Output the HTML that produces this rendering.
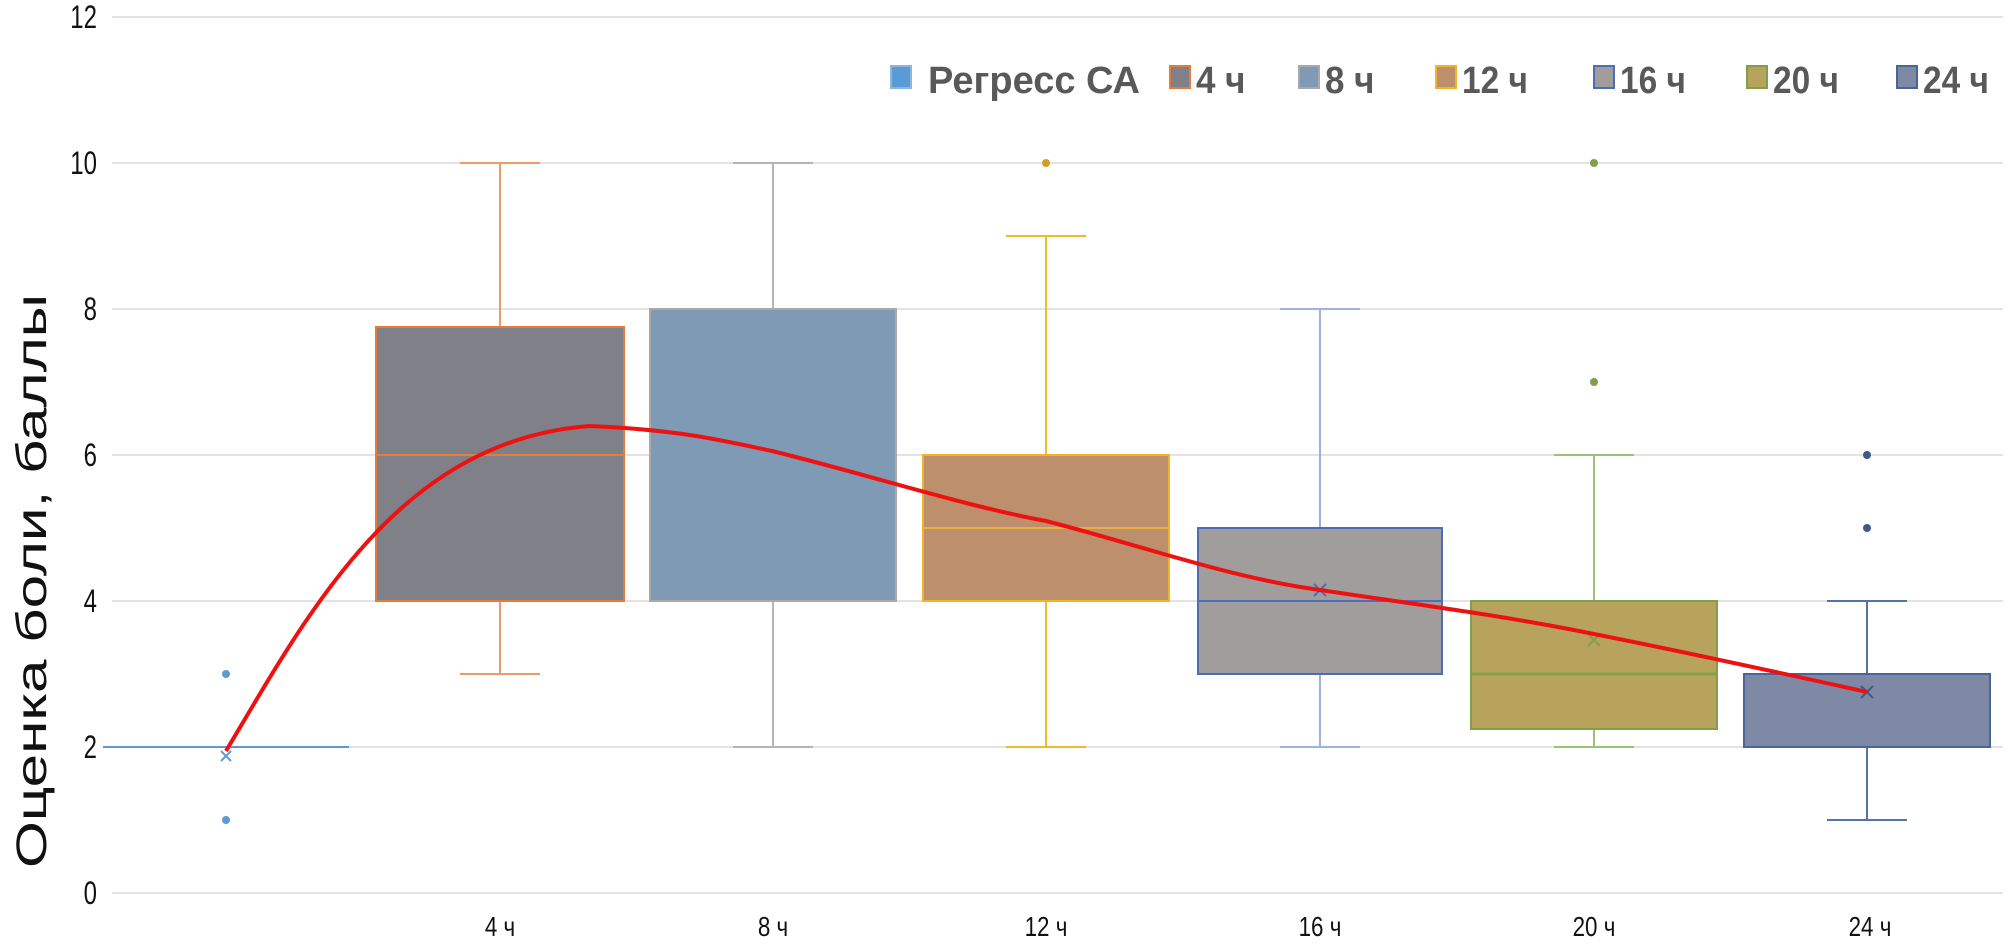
<!DOCTYPE html>
<html><head><meta charset="utf-8"><style>
html,body{margin:0;padding:0;background:#fff;width:2010px;height:947px;overflow:hidden}
text{font-family:"Liberation Sans",sans-serif}
</style></head><body>
<svg width="2010" height="947" xmlns="http://www.w3.org/2000/svg">
<g stroke="#e3e3e3" stroke-width="2">
<line x1="112" x2="2003" y1="893" y2="893"/><line x1="112" x2="2003" y1="747" y2="747"/>
<line x1="112" x2="2003" y1="601" y2="601"/><line x1="112" x2="2003" y1="455" y2="455"/>
<line x1="112" x2="2003" y1="309" y2="309"/><line x1="112" x2="2003" y1="163" y2="163"/>
<line x1="112" x2="2003" y1="17" y2="17"/>
</g>
<g font-size="32" fill="#111" text-anchor="end">
<text x="97" y="904" transform="translate(97 0) scale(0.75 1) translate(-97 0)">0</text>
<text x="97" y="758" transform="translate(97 0) scale(0.75 1) translate(-97 0)">2</text>
<text x="97" y="612" transform="translate(97 0) scale(0.75 1) translate(-97 0)">4</text>
<text x="97" y="466" transform="translate(97 0) scale(0.75 1) translate(-97 0)">6</text>
<text x="97" y="320" transform="translate(97 0) scale(0.75 1) translate(-97 0)">8</text>
<text x="97" y="174" transform="translate(97 0) scale(0.75 1) translate(-97 0)">10</text>
<text x="97" y="28" transform="translate(97 0) scale(0.75 1) translate(-97 0)">12</text>
</g>
<text transform="translate(46 581) rotate(-90) scale(1.4 1)" font-size="43" fill="#111" text-anchor="middle">Оценка боли, баллы</text>
<g font-size="28" fill="#111" text-anchor="middle">
<text x="500" y="936" transform="translate(500 0) scale(0.8 1) translate(-500 0)">4 ч</text>
<text x="773" y="936" transform="translate(773 0) scale(0.8 1) translate(-773 0)">8 ч</text>
<text x="1046" y="936" transform="translate(1046 0) scale(0.8 1) translate(-1046 0)">12 ч</text>
<text x="1320" y="936" transform="translate(1320 0) scale(0.8 1) translate(-1320 0)">16 ч</text>
<text x="1594" y="936" transform="translate(1594 0) scale(0.8 1) translate(-1594 0)">20 ч</text>
<text x="1870" y="936" transform="translate(1870 0) scale(0.8 1) translate(-1870 0)">24 ч</text>
</g>
<!-- group 0 -->
<g stroke="#5b9bd5" stroke-width="2">
<line x1="103" x2="349" y1="747" y2="747"/>
<path d="M221 751 l10 10 M231 751 l-10 10" fill="none"/>
</g>
<circle cx="226" cy="674" r="4" fill="#5b9bd5"/><circle cx="226" cy="820" r="4" fill="#5b9bd5"/>
<!-- 4h -->
<g stroke="#ed9a6a" stroke-width="2" fill="none">
<line x1="500" x2="500" y1="163" y2="327"/><line x1="460" x2="540" y1="163" y2="163"/>
<line x1="500" x2="500" y1="601" y2="674"/><line x1="460" x2="540" y1="674" y2="674"/>
</g>
<rect x="376" y="327" width="248" height="274" fill="#7f8088" stroke="#e27d3e" stroke-width="2"/>
<line x1="376" x2="624" y1="455" y2="455" stroke="#e27d3e" stroke-width="2"/>
<!-- 8h -->
<g stroke="#b5b5b5" stroke-width="2">
<line x1="773" x2="773" y1="163" y2="309"/><line x1="733" x2="813" y1="163" y2="163"/>
<line x1="773" x2="773" y1="601" y2="747"/><line x1="733" x2="813" y1="747" y2="747"/>
</g>
<rect x="650" y="309" width="246" height="292" fill="#7f9ab5" stroke="#a9a9a9" stroke-width="2"/>
<!-- 12h -->
<g stroke="#f0bb2a" stroke-width="2">
<line x1="1046" x2="1046" y1="236" y2="455"/><line x1="1006" x2="1086" y1="236" y2="236"/>
<line x1="1046" x2="1046" y1="601" y2="747"/><line x1="1006" x2="1086" y1="747" y2="747"/>
</g>
<rect x="923" y="455" width="246" height="146" fill="#bd8f6c" stroke="#f0b428" stroke-width="2"/>
<line x1="923" x2="1169" y1="528" y2="528" stroke="#e8b040" stroke-width="2"/>
<circle cx="1046" cy="163" r="4" fill="#d4a020"/>
<!-- 16h -->
<g stroke="#9fb0dc" stroke-width="2">
<line x1="1320" x2="1320" y1="309" y2="528"/><line x1="1280" x2="1360" y1="309" y2="309"/>
<line x1="1320" x2="1320" y1="674" y2="747"/><line x1="1280" x2="1360" y1="747" y2="747"/>
</g>
<rect x="1198" y="528" width="244" height="146" fill="#a09d9c" stroke="#4c6db8" stroke-width="2"/>
<line x1="1198" x2="1442" y1="601" y2="601" stroke="#4c6db8" stroke-width="2"/>
<path d="M1314 584 l12 12 M1326 584 l-12 12" stroke="#4c6db8" stroke-width="2"/>
<!-- 20h -->
<g stroke="#9cbf7c" stroke-width="2">
<line x1="1594" x2="1594" y1="455" y2="601"/><line x1="1554" x2="1634" y1="455" y2="455"/>
<line x1="1594" x2="1594" y1="729" y2="747"/><line x1="1554" x2="1634" y1="747" y2="747"/>
</g>
<rect x="1471" y="601" width="246" height="128" fill="#b8a35c" stroke="#7fa04a" stroke-width="2"/>
<line x1="1471" x2="1717" y1="674" y2="674" stroke="#86a04a" stroke-width="3"/>
<path d="M1588 634 l12 12 M1600 634 l-12 12" stroke="#7fa04a" stroke-width="2"/>
<circle cx="1594" cy="382" r="4" fill="#7fa04a"/><circle cx="1594" cy="163" r="4" fill="#7fa04a"/>
<!-- 24h -->
<g stroke="#5673a6" stroke-width="2">
<line x1="1867" x2="1867" y1="601" y2="674"/><line x1="1827" x2="1907" y1="601" y2="601"/>
<line x1="1867" x2="1867" y1="747" y2="820"/><line x1="1827" x2="1907" y1="820" y2="820"/>
</g>
<rect x="1744" y="674" width="246" height="73" fill="#7d89a5" stroke="#4a6596" stroke-width="2"/>
<path d="M1861 686 l12 12 M1873 686 l-12 12" stroke="#3d5a8a" stroke-width="2"/>
<circle cx="1867" cy="528" r="4" fill="#3d5a8a"/><circle cx="1867" cy="455" r="4" fill="#3d5a8a"/>
<!-- red curve -->
<path d="M226 751 C310 610 400 440 590 426 C680 430 720 440 772 451 C870 475 960 505 1046 521 C1140 545 1230 578 1320 590 C1420 605 1500 615 1594 634 C1700 655 1790 675 1867 692" fill="none" stroke="#ee1111" stroke-width="4"/>
<!-- legend -->
<g font-size="38" font-weight="bold" fill="#595959">
<rect x="891" y="66" width="20" height="22" fill="#5b9bd5" stroke="#8ab6e0" stroke-width="2"/>
<text x="928" y="93">Регресс СА</text>
<rect x="1170" y="66" width="20" height="22" fill="#7f8088" stroke="#e27d3e" stroke-width="2"/>
<text x="1196" y="93" transform="translate(1196 0) scale(0.92 1) translate(-1196 0)">4 ч</text>
<rect x="1299" y="66" width="20" height="22" fill="#7f9ab5" stroke="#a9a9a9" stroke-width="2"/>
<text x="1325" y="93" transform="translate(1325 0) scale(0.92 1) translate(-1325 0)">8 ч</text>
<rect x="1436" y="66" width="20" height="22" fill="#bd8f6c" stroke="#f0b428" stroke-width="2"/>
<text x="1462" y="93" transform="translate(1462 0) scale(0.88 1) translate(-1462 0)">12 ч</text>
<rect x="1594" y="66" width="20" height="22" fill="#a09d9c" stroke="#4c6db8" stroke-width="2"/>
<text x="1620" y="93" transform="translate(1620 0) scale(0.88 1) translate(-1620 0)">16 ч</text>
<rect x="1747" y="66" width="20" height="22" fill="#b8a35c" stroke="#7fa04a" stroke-width="2"/>
<text x="1773" y="93" transform="translate(1773 0) scale(0.88 1) translate(-1773 0)">20 ч</text>
<rect x="1897" y="66" width="20" height="22" fill="#7d89a5" stroke="#4a6596" stroke-width="2"/>
<text x="1923" y="93" transform="translate(1923 0) scale(0.88 1) translate(-1923 0)">24 ч</text>
</g>
</svg>
</body></html>
